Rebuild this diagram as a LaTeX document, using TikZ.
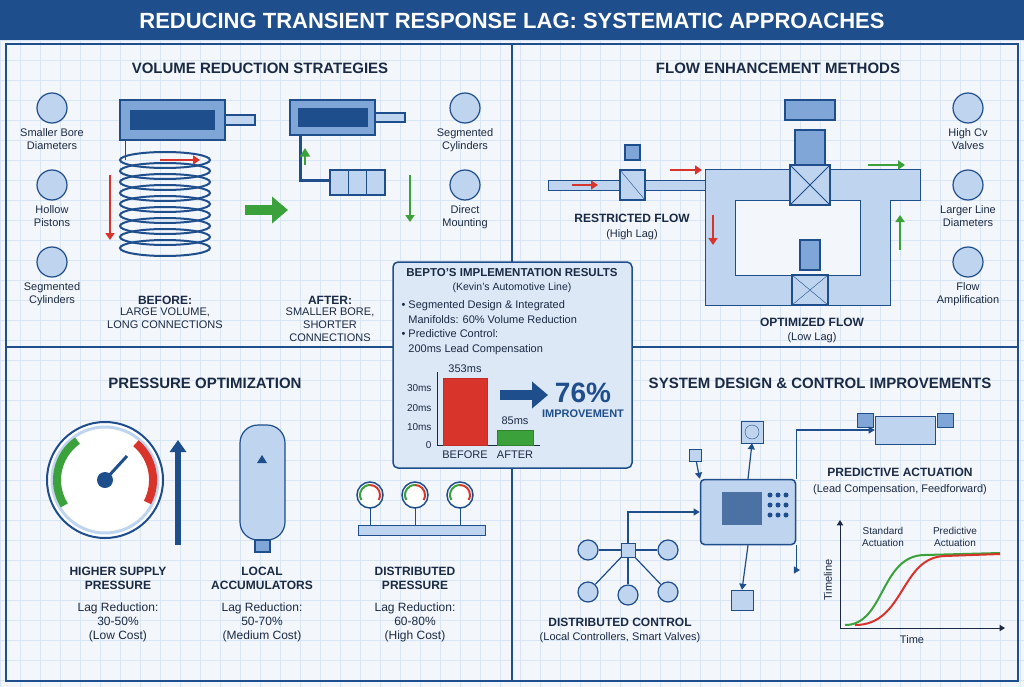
\documentclass[tikz,border=0pt]{standalone}
\usepackage{fontspec}
\setmainfont{Liberation Sans}
\usetikzlibrary{arrows.meta,shapes.geometric}
\definecolor{navy}{HTML}{1F4E8C}
\definecolor{ink}{HTML}{1B2A44}
\definecolor{pale}{HTML}{F3F6FA}
\definecolor{lblue}{HTML}{BFD4EE}
\definecolor{mblue}{HTML}{7FA6D6}
\definecolor{rd}{HTML}{D9342B}
\definecolor{gr}{HTML}{3BA13B}
\definecolor{boxbg}{HTML}{DCE8F6}
\tikzset{
 sect/.style={font=\bfseries\fontsize{15}{17}\selectfont,text=ink},
 lab/.style={font=\fontsize{11}{13}\selectfont,text=ink,align=center},
 blab/.style={font=\bfseries\fontsize{12}{14}\selectfont,text=ink,align=center},
 icon/.style={circle,draw=navy,line width=1.2pt,fill=lblue,minimum size=30pt},
 part/.style={draw=navy,line width=1.2pt,fill=mblue},
 pipe/.style={draw=navy,line width=1pt,fill=lblue},
 rarr/.style={-{Triangle[length=7pt,width=9pt]},rd,line width=2.5pt},
 garr/.style={-{Triangle[length=7pt,width=9pt]},gr,line width=2.5pt},
 big/.style={-{Triangle[length=16pt,width=26pt]},line width=10pt},
}
\begin{document}
\begin{tikzpicture}[x=1pt,y=-1pt]
\useasboundingbox (0,0) rectangle (1024,687);
\fill[pale] (0,0) rectangle (1024,687);
\draw[lblue!60,line width=0.3pt] \foreach \i in {0,20,...,1020}{(\i,40)--(\i,687)} \foreach \j in {40,60,...,680}{(0,\j)--(1024,\j)};
\fill[navy] (0,0) rectangle (1024,40);
\node[text=white,font=\bfseries\fontsize{22}{24}\selectfont] (title) at (512,21) {REDUCING TRANSIENT RESPONSE LAG: SYSTEMATIC APPROACHES};
\draw[navy,line width=1.5pt] (6,44) rectangle (1018,681);
\draw[navy,line width=1.5pt] (512,44)--(512,681) (6,347)--(1018,347);
\node[sect] (s1) at (260,68) {VOLUME REDUCTION STRATEGIES};
\node[sect] (s2) at (778,68) {FLOW ENHANCEMENT METHODS};
\node[sect] (s3) at (205,383) {PRESSURE OPTIMIZATION};
\node[sect] (s4) at (820,383) {SYSTEM DESIGN \& CONTROL IMPROVEMENTS};
% panel 1
\node[icon] (i1) at (52,108) {}; \node[lab,below=1pt] (t1) at (i1.south) {Smaller Bore\\Diameters};
\node[icon] (i2) at (52,185) {}; \node[lab,below=1pt] (t2) at (i2.south) {Hollow\\Pistons};
\node[icon] (i3) at (52,262) {}; \node[lab,below=1pt] (t3) at (i3.south) {Segmented\\Cylinders};
\node[icon] (i4) at (465,108) {}; \node[lab,below=1pt] (t4) at (i4.south) {Segmented\\Cylinders};
\node[icon] (i5) at (465,185) {}; \node[lab,below=1pt] (t5) at (i5.south) {Direct\\Mounting};
\draw[part] (120,100) rectangle (225,140); \fill[navy] (130,110) rectangle (215,130);
\draw[part,fill=lblue] (225,115) rectangle (255,125);
\foreach \k in {0,...,8}{\draw[navy,line width=2pt,fill=none] (165,160+\k*11) ellipse (45 and 8);}
\draw[pipe] (125,140)--(125,160);
\draw[rarr] (160,160)--(200,160);
\draw[rarr] (110,175)--(110,240);
\draw[big,gr] (245,210)--(288,210);
\draw[part] (290,100) rectangle (375,135); \fill[navy] (298,108) rectangle (368,127);
\draw[part,fill=lblue] (375,113) rectangle (405,122);
\draw[navy,line width=3pt] (300,135)--(300,180)--(330,180);
\draw[part,fill=lblue] (330,170) rectangle (385,195);
\draw[navy,line width=1pt] (348,170)--(348,195) (366,170)--(366,195);
\draw[gr,line width=2pt,-{Triangle}] (305,165)--(305,148);
\draw[garr] (410,175)--(410,222);
\node[blab] (b1) at (165,300) {BEFORE:};
\node[lab] (b1t) at (165,318) {LARGE VOLUME,\\LONG CONNECTIONS};
\node[blab] (a1) at (330,300) {AFTER:};
\node[lab] (a1t) at (330,325) {SMALLER BORE,\\SHORTER\\CONNECTIONS};
% panel 2
\node[icon] (j1) at (968,108) {}; \node[lab,below=1pt] (u1) at (j1.south) {High Cv\\Valves};
\node[icon] (j2) at (968,185) {}; \node[lab,below=1pt] (u2) at (j2.south) {Larger Line\\Diameters};
\node[icon] (j3) at (968,262) {}; \node[lab,below=1pt] (u3) at (j3.south) {Flow\\Amplification};
\draw[pipe] (548,180) rectangle (705,190);
\draw[pipe] (705,170) -- (920,170) -- (920,200) -- (890,200) -- (890,305) -- (705,305) -- (705,200) -- (705,170);
\fill[pale] (735,200) rectangle (860,275); \draw[navy,line width=1pt] (735,200) rectangle (860,275);
\draw[part,fill=lblue] (790,165) rectangle (830,205); \draw[navy,line width=1pt] (790,165)--(830,205) (790,205)--(830,165);
\draw[part] (795,130) rectangle (825,165); \draw[part] (785,100) rectangle (835,120);
\draw[part,fill=lblue] (792,275) rectangle (828,305); \draw[navy] (792,275)--(828,305) (792,305)--(828,275);
\draw[part] (800,240) rectangle (820,270);
\draw[part,fill=lblue] (620,170) rectangle (645,200); \draw[navy] (620,170)--(645,200);
\draw[part] (625,145) rectangle (640,160);
\draw[rarr,line width=1.5pt] (572,185)--(598,185);
\draw[rarr,line width=1.5pt] (670,170)--(702,170);
\draw[rarr,line width=1.5pt] (713,215)--(713,245);
\draw[garr] (868,165)--(905,165);
\draw[garr] (900,250)--(900,215);
\node[blab] (rf) at (632,218) {RESTRICTED FLOW}; \node[lab] (rf2) at (632,235) {(High Lag)};
\node[blab] (of) at (812,322) {OPTIMIZED FLOW}; \node[lab] (of2) at (812,338) {(Low Lag)};
% center box
\draw[navy,line width=1.5pt,fill=boxbg,rounded corners=5pt] (393,262) rectangle (632,468);
\node[font=\bfseries\fontsize{11.5}{13}\selectfont,text=ink] (ct) at (512,273) {BEPTO'S IMPLEMENTATION RESULTS};
\node[lab,font=\fontsize{10.5}{12}\selectfont] (ct2) at (512,288) {(Kevin's Automotive Line)};
\node[lab,align=left,anchor=north west,font=\fontsize{11}{14.5}\selectfont] (cb) at (398,297) {• Segmented Design \& Integrated\\\phantom{• }Manifolds: 60\% Volume Reduction\\• Predictive Control:\\\phantom{• }200ms Lead Compensation};
\draw[ink,line width=0.8pt] (437,372)--(437,445)--(540,445);
\foreach \v/\yy in {30ms/388,20ms/408,10ms/427,0/445}{\node[lab,anchor=east,font=\fontsize{10}{11}\selectfont] at (435,\yy) {\v};}
\draw[rd!90!black,fill=rd] (443,378) rectangle (487,445);
\draw[gr!80!black,fill=gr] (497,430) rectangle (533,445);
\node[lab] (v1) at (465,369) {353ms}; \node[lab] (v2) at (515,421) {85ms};
\node[lab] (x1) at (465,455) {BEFORE}; \node[lab] (x2) at (515,455) {AFTER};
\draw[big,navy] (500,395)--(548,395);
\node[text=navy,font=\bfseries\fontsize{28}{30}\selectfont] (pc) at (583,393) {76\%};
\node[text=navy,font=\bfseries\fontsize{11}{13}\selectfont] (im) at (583,414) {IMPROVEMENT};
% panel 3
\draw[navy,line width=2pt,fill=white] (105,480) circle (58);
\draw[lblue,line width=3pt] (105,480) circle (53);
\draw[gr,line width=8pt] (64.3,505.4) arc (148:235:48);
\draw[rd,line width=8pt] (135.9,443.2) arc (-50:28:48);
\draw[navy,line width=3pt] (105,480)--(127,456);
\fill[navy] (105,480) circle (8);
\draw[big,navy,line width=6pt,-{Triangle[length=12pt,width=16pt]}] (178,545)--(178,440);
\draw[part,fill=lblue,rounded corners=18pt] (240,425) rectangle (285,540);
\fill[navy] (262,455)--(257,463)--(267,463)--cycle;
\draw[part] (255,540) rectangle (270,552);
\draw[pipe] (358,525) rectangle (485,535);
\foreach \gx in {370,415,460}{\draw[navy,line width=1pt] (\gx,508)--(\gx,525); \draw[navy,line width=1.5pt,fill=white] (\gx,495) circle (13); \draw[gr,line width=2pt] (\gx-8.7,500) arc (150:270:10); \draw[rd,line width=2pt] (\gx,485) arc (270:390:10);}
\node[blab] (p1) at (118,578) {HIGHER SUPPLY\\PRESSURE}; \node[lab,font=\fontsize{12}{14}\selectfont] (p1t) at (118,622) {Lag Reduction:\\30-50\%\\(Low Cost)};
\node[blab] (p2) at (262,578) {LOCAL\\ACCUMULATORS}; \node[lab,font=\fontsize{12}{14}\selectfont] (p2t) at (262,622) {Lag Reduction:\\50-70\%\\(Medium Cost)};
\node[blab] (p3) at (415,578) {DISTRIBUTED\\PRESSURE}; \node[lab,font=\fontsize{12}{14}\selectfont] (p3t) at (415,622) {Lag Reduction:\\60-80\%\\(High Cost)};
% panel 4
\node[draw=navy,line width=1.5pt,fill=lblue,rounded corners=4pt,minimum width=95pt,minimum height=65pt] (ctrl) at (748,512) {};
\fill[navy!80] (722,492) rectangle (762,525);
\foreach \a in {0,1,2}{\foreach \b in {0,1,2}{\fill[navy] (770+\a*8,495+\b*10) circle (2.5);}}
\node[draw=navy,fill=lblue,minimum size=22pt] (dial) at (752,432) {};
\draw[navy] (dial) circle (7);
\node[draw=navy,fill=lblue,minimum width=22pt,minimum height=20pt] (obs) at (742,600) {};
\node[draw=navy,fill=lblue,minimum width=60pt,minimum height=28pt] (pa) at (905,430) {};
\node[draw=navy,fill=mblue,minimum width=16pt,minimum height=14pt] (pa1) at (865,420) {};
\node[draw=navy,fill=mblue,minimum width=16pt,minimum height=14pt] (pa2) at (945,420) {};
\node[draw=navy,fill=lblue,minimum width=12pt,minimum height=12pt] (sen) at (695,455) {};
\coordinate (ext) at (800,570);
\draw[navy,line width=1.2pt,-{Triangle}] (ctrl.north) -- (dial.south);
\draw[navy,line width=1.2pt,-{Triangle}] (ctrl.north east) |- (pa.west);
\draw[navy,line width=1.2pt,-{Triangle}] (sen) -- (ctrl.north west);
\draw[navy,line width=1.2pt,-{Triangle}] (ctrl.south) -- (obs.north);
\draw[navy,line width=1.2pt,-{Triangle}] (ctrl.south east) |- (ext);
\node[draw=navy,fill=lblue,minimum size=14pt] (hub) at (628,550) {};
\foreach \n/\px/\py in {n1/588/550,n2/668/550,n3/588/592,n4/628/595,n5/668/592}{\node[icon,minimum size=20pt] (\n) at (\px,\py) {}; \draw[navy,line width=1.2pt] (hub)--(\n);}
\draw[navy,line width=1.2pt,-{Triangle}] (hub.north) |- (ctrl.west);
\node[blab] (pt) at (900,472) {PREDICTIVE ACTUATION};
\node[lab] (pt2) at (900,490) {(Lead Compensation, Feedforward)};
\node[blab] (dc) at (620,622) {DISTRIBUTED CONTROL};
\node[lab] (dc2) at (620,638) {(Local Controllers, Smart Valves)};
\coordinate (o) at (840,628);
\draw[ink,line width=1pt,-{Triangle}] (o)--(1005,628);
\draw[ink,line width=1pt,-{Triangle}] (o)--(840,520);
\draw[gr,line width=2pt] (845,625) .. controls (885,625) and (880,555) .. (925,555) -- (1000,553);
\draw[rd,line width=2pt] (855,625) .. controls (905,625) and (900,557) .. (945,556) -- (1000,554);
\node[lab,font=\fontsize{10}{12}\selectfont] (sa) at (883,537) {Standard\\Actuation};
\node[lab,font=\fontsize{10}{12}\selectfont] (pa3) at (955,537) {Predictive\\Actuation};
\node[lab,rotate=90] (tl) at (828,580) {Timeline};
\node[lab] (tm) at (912,640) {Time};
\end{tikzpicture}
\end{document}
